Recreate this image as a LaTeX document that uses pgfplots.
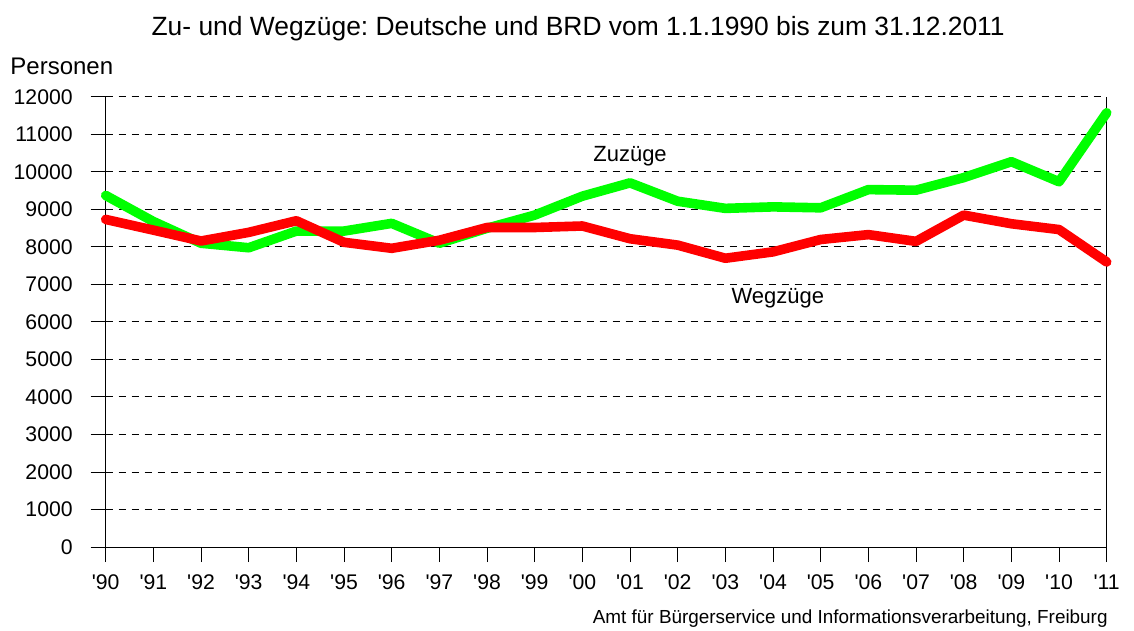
\documentclass[border=0pt]{standalone}
\usepackage{fontspec}
\setmainfont{Liberation Sans}[Ligatures=TeXOff]
\usepackage{pgfplots}
\pgfplotsset{compat=1.18}
\frenchspacing
\begin{document}
\begin{tikzpicture}
\path[use as bounding box] (-52.85pt,-42pt) rectangle (514.15pt,273.5pt);
\begin{axis}[
  at={(0,0)}, anchor=south west,
  scale only axis, width=500.5pt, height=225pt,
  xmin=0, xmax=21, ymin=0, ymax=12000,
  xtick={0,...,21},
  xticklabels={'90,'91,'92,'93,'94,'95,'96,'97,'98,'99,'00,'01,'02,'03,'04,'05,'06,'07,'08,'09,'10,'11},
  ytick={0,1000,...,12000},
  scaled y ticks=false,
  /pgf/number format/assume math mode=true,
  /pgf/number format/1000 sep={},
  /pgf/number format/fixed,
  tick label style={font=\fontsize{10.6}{12}\selectfont, black},
  yticklabel style={xshift=-5.5pt},
  xticklabel style={yshift=-3pt},
  tick align=outside, major tick length=7.5pt,
  tick style={black, line width=0.5pt},
  axis line style={black, line width=0.5pt},
  ymajorgrids, grid style={black, line width=0.5pt, dash pattern=on 3.5pt off 3pt},
  axis x line*=bottom, axis y line*=left,
  clip=false,
]
\draw[black, line width=0.5pt] (rel axis cs:1,0) -- (rel axis cs:1,1);
\addplot[color={rgb,255:red,0;green,255;blue,0}, line width=4.8pt, line join=round, line cap=round] coordinates {
(0,9375) (1,8680) (2,8100) (3,7980) (4,8425) (5,8425) (6,8630) (7,8100) (8,8500) (9,8850) (10,9355) (11,9710) (12,9220) (13,9030) (14,9070) (15,9045) (16,9530) (17,9515) (18,9850) (19,10275) (20,9740) (21,11580)
};
\addplot[color={rgb,255:red,255;green,0;blue,0}, line width=4.8pt, line join=round, line cap=round] coordinates {
(0,8735) (1,8450) (2,8160) (3,8390) (4,8700) (5,8125) (6,7965) (7,8180) (8,8520) (9,8520) (10,8560) (11,8220) (12,8050) (13,7700) (14,7870) (15,8200) (16,8330) (17,8150) (18,8850) (19,8620) (20,8465) (21,7600)
};
\node[font=\fontsize{11}{13}\selectfont] at (axis cs:11.0,10410) {Zuzüge};
\node[font=\fontsize{11}{13}\selectfont] at (axis cs:14.1,6645) {Wegzüge};
\node[anchor=base, font=\fontsize{13.2}{15}\selectfont] at (rel axis cs:0.472,1.1356) {Zu- und Wegzüge: Deutsche und BRD vom 1.1.1990 bis zum 31.12.2011};
\node[anchor=base west, inner sep=0pt, font=\fontsize{12}{14}\selectfont] at (rel axis cs:-0.0956,1.051) {Personen};
\node[anchor=base east, inner sep=0pt, font=\fontsize{9.45}{11}\selectfont] at (rel axis cs:1.0013,-0.171) {Amt für Bürgerservice und Informationsverarbeitung, Freiburg};
\end{axis}
\end{tikzpicture}
\end{document}
